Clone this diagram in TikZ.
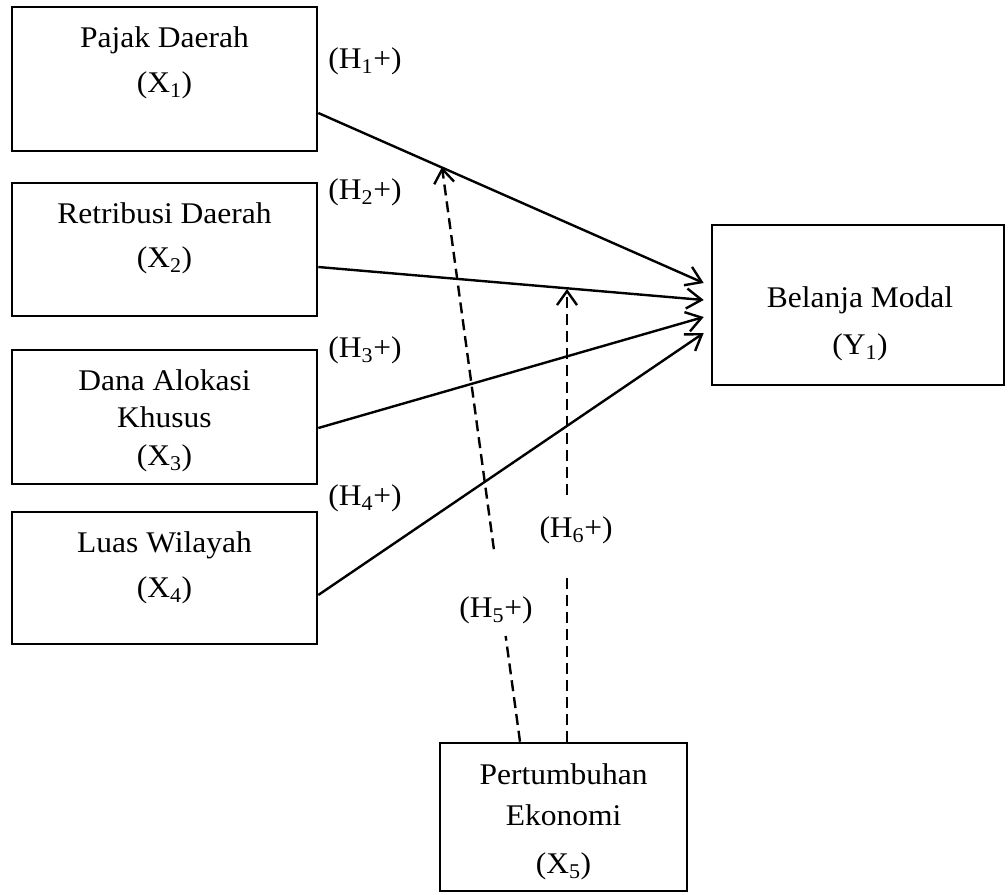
\documentclass[tikz,border=0pt]{standalone}
\usepackage{fontspec}
\setmainfont{Liberation Serif}[FakeStretch=1.05]
\usetikzlibrary{arrows.meta,calc}
\tikzset{
  box/.style={draw, line width=2.6pt, rectangle, inner sep=0pt},
  txt/.style={anchor=base, inner sep=0pt, font=\fontsize{30}{33}\selectfont},
  conn/.style={line width=2.4pt, -{Straight Barb[length=15pt,width=20pt,line width=2.4pt]}},
  dconn/.style={line width=2.4pt, dash pattern=on 11pt off 6pt},
  dconnarrow/.style={dconn, -{Straight Barb[length=14pt,width=20pt,line width=2.4pt]}}
}
\begin{document}
\begin{tikzpicture}[x=1pt,y=-1pt]
\useasboundingbox (0,0) rectangle (1008,894);
% boxes
\node[box, minimum width=305pt, minimum height=144pt] (pajak) at (164.5,79) {};
\node[box, minimum width=305pt, minimum height=133pt] (retri) at (164.5,249.5) {};
\node[box, minimum width=305pt, minimum height=134pt] (dana) at (164.5,417) {};
\node[box, minimum width=305pt, minimum height=132pt] (luas) at (164.5,578) {};
\node[box, minimum width=292pt, minimum height=160pt] (belanja) at (858,305) {};
\node[box, minimum width=247pt, minimum height=148pt] (eko) at (563.5,817) {};
% box texts
\node[txt] (t1a) at (164.5,47) {Pajak Daerah};
\node[txt] (t1b) at (164.5,92) {(X\textsubscript{1})};
\node[txt] (t2a) at (164.5,223) {Retribusi Daerah};
\node[txt] (t2b) at (164.5,267) {(X\textsubscript{2})};
\node[txt] (t3a) at (164.5,390) {Dana Alokasi};
\node[txt] (t3b) at (164.5,427) {Khusus};
\node[txt] (t3c) at (164.5,465) {(X\textsubscript{3})};
\node[txt] (t4a) at (164.5,552) {Luas Wilayah};
\node[txt] (t4b) at (164.5,597) {(X\textsubscript{4})};
\node[txt] (tya) at (860,307) {Belanja Modal};
\node[txt] (tyb) at (860,354) {(Y\textsubscript{1})};
\node[txt] (t5a) at (563.5,784) {Pertumbuhan};
\node[txt] (t5b) at (563.5,825) {Ekonomi};
\node[txt] (t5c) at (563.5,873) {(X\textsubscript{5})};
% hypothesis labels
\node[txt] (h1) at (365,68) {(H\textsubscript{1}+)};
\node[txt] (h2) at (365,199) {(H\textsubscript{2}+)};
\node[txt] (h3) at (365,357) {(H\textsubscript{3}+)};
\node[txt] (h4) at (365,505) {(H\textsubscript{4}+)};
\node[txt] (h5) at (496,617) {(H\textsubscript{5}+)};
\node[txt] (h6) at (576,537) {(H\textsubscript{6}+)};
% main arrows
\draw[conn] ([yshift=-34pt]pajak.east) -- ([xshift=-7pt,yshift=22pt]belanja.west);
\draw[conn] ([yshift=-17.5pt]retri.east) -- ([xshift=-7pt,yshift=5pt]belanja.west);
\draw[conn] ([yshift=-11pt]dana.east) -- ([xshift=-7pt,yshift=-12pt]belanja.west);
\draw[conn] ([yshift=-17pt]luas.east) -- ([xshift=-7pt,yshift=-28pt]belanja.west);
% moderating dashed arrows
\coordinate (h5s) at ([xshift=-43.5pt]eko.north);
\coordinate (h5t) at (442,167);
\coordinate (h5g1) at ($(h5s)!0.184!(h5t)$);
\coordinate (h5g2) at ($(h5s)!0.335!(h5t)$);
\draw[dconn] (h5s) -- (h5g1);
\draw[dconnarrow] (h5g2) -- (h5t);
\coordinate (h6s) at ([xshift=3.5pt]eko.north);
\coordinate (h6t) at (567,289);
\coordinate (h6g1) at (567,578);
\coordinate (h6g2) at (567,495);
\draw[dconn] (h6s) -- (h6g1);
\draw[dconnarrow] (h6g2) -- (h6t);
\end{tikzpicture}
\end{document}
